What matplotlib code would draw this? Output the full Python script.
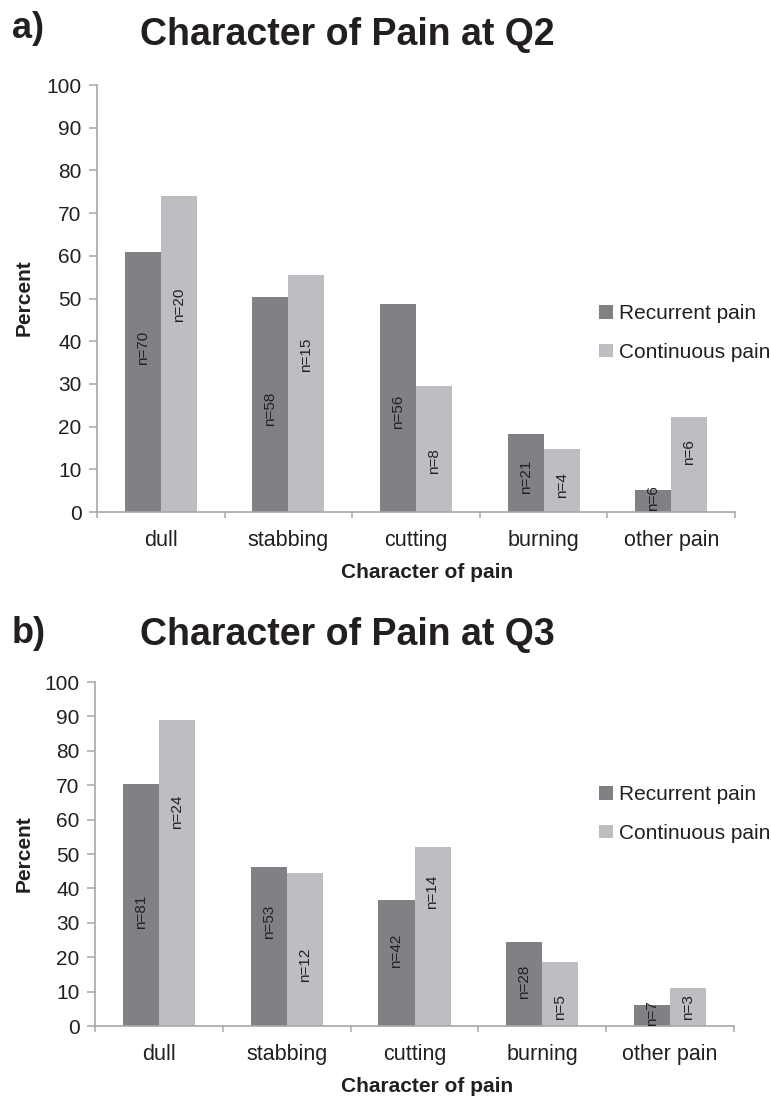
import numpy as np
import matplotlib
matplotlib.use("Agg")
import matplotlib.pyplot as plt

plt.rcParams['font.family'] = ['Liberation Sans', 'DejaVu Sans']

categories = ["dull", "stabbing", "cutting", "burning", "other pain"]
series_names = ["Recurrent pain", "Continuous pain"]

# Q2 percentages and counts
q2_recurrent = [60.9, 50.4, 48.7, 18.3, 5.2]
q2_continuous = [74.1, 55.6, 29.6, 14.8, 22.2]
q2_n_recurrent = [70, 58, 56, 21, 6]
q2_n_continuous = [20, 15, 8, 4, 6]

# Q3 percentages and counts
q3_recurrent = [70.4, 46.1, 36.5, 24.3, 6.1]
q3_continuous = [88.9, 44.4, 51.9, 18.5, 11.1]
q3_n_recurrent = [81, 53, 42, 28, 7]
q3_n_continuous = [24, 12, 14, 5, 3]

# label placement (fraction of bar height) - layout only
q2_frac_rec = [0.63, 0.48, 0.48, 0.45, 0.63]
q2_frac_con = [0.655, 0.66, 0.40, 0.43, 0.63]
q3_frac_rec = [0.47, 0.66, 0.60, 0.53, 0.62]
q3_frac_con = [0.70, 0.40, 0.75, 0.30, 0.50]

DARK = "#808185"
LIGHT = "#bdbec2"
AXC = "#a5a7aa"
TXT = "#231f20"

W, H = 771, 1097
fig = plt.figure(figsize=(W / 100, H / 100), dpi=100)


def draw(ax, rec, con, n_rec, n_con, f_rec, f_con):
    x = np.arange(len(categories))
    bw = 0.282
    ax.bar(x - bw / 2, rec, bw, color=DARK, label=series_names[0], linewidth=0)
    ax.bar(x + bw / 2, con, bw, color=LIGHT, label=series_names[1], linewidth=0)
    for i in range(len(categories)):
        ax.text(x[i] - bw / 2, rec[i] * f_rec[i], f"n={n_rec[i]}", rotation=90,
                ha='center', va='center', fontsize=11, color=TXT)
        ax.text(x[i] + bw / 2, con[i] * f_con[i], f"n={n_con[i]}", rotation=90,
                ha='center', va='center', fontsize=11, color=TXT)
    ax.set_xlim(-0.5, len(categories) - 0.5)
    ax.set_ylim(0, 100)
    for s in ['top', 'right']:
        ax.spines[s].set_visible(False)
    for s in ['left', 'bottom']:
        ax.spines[s].set_color(AXC)
        ax.spines[s].set_linewidth(1.2)
    ax.set_yticks(np.arange(0, 101, 10))
    ax.tick_params(axis='y', length=6, width=1.1, color=AXC, labelsize=15,
                   labelcolor=TXT, pad=5)
    ax.set_xticks(x)
    ax.set_xticklabels(categories)
    ax.set_xticks(np.arange(-0.5, len(categories), 1), minor=True)
    ax.tick_params(axis='x', which='major', length=0, labelsize=15.5,
                   labelcolor=TXT, pad=13)
    ax.tick_params(axis='x', which='minor', length=4.5, width=1.1, color=AXC)
    ax.set_facecolor('none')


ax1 = fig.add_axes([97 / W, 1 - 512 / H, (735 - 97) / W, (512 - 85) / H])
draw(ax1, q2_recurrent, q2_continuous, q2_n_recurrent, q2_n_continuous,
     q2_frac_rec, q2_frac_con)
ax2 = fig.add_axes([95 / W, 1 - 1026 / H, (734 - 95) / W, (1026 - 682) / H])
draw(ax2, q3_recurrent, q3_continuous, q3_n_recurrent, q3_n_continuous,
     q3_frac_rec, q3_frac_con)

# titles and panel letters
fig.text(347 / W, 1 - 45 / H, "Character of Pain at Q2", ha='center', va='baseline',
         fontsize=27, fontweight='bold', color=TXT)
fig.text(347 / W, 1 - 645 / H, "Character of Pain at Q3", ha='center', va='baseline',
         fontsize=27, fontweight='bold', color=TXT)
fig.text(12 / W, 1 - 38 / H, "a)", ha='left', va='baseline',
         fontsize=26, fontweight='bold', color=TXT)
fig.text(12 / W, 1 - 643 / H, "b)", ha='left', va='baseline',
         fontsize=26, fontweight='bold', color=TXT)

# axis labels
for yc in (298, 854):
    fig.text(24 / W, 1 - yc / H, "Percent", rotation=90, ha='center', va='center',
             fontsize=15, fontweight='bold', color=TXT)
for yb in (578, 1092):
    fig.text(427 / W, 1 - yb / H, "Character of pain", ha='center', va='baseline',
             fontsize=15, fontweight='bold', color=TXT)

# legends
for ax, ytop in ((ax1, 304), (ax2, 785)):
    ax.legend(loc='upper left', bbox_to_anchor=(599 / W, 1 - ytop / H),
              bbox_transform=fig.transFigure, frameon=False, fontsize=15,
              handlelength=0.65, handleheight=0.65, handletextpad=0.3,
              labelspacing=0.95, borderpad=0, borderaxespad=0,
              labelcolor=TXT)

fig.savefig("out.png", dpi=100, facecolor='white')
